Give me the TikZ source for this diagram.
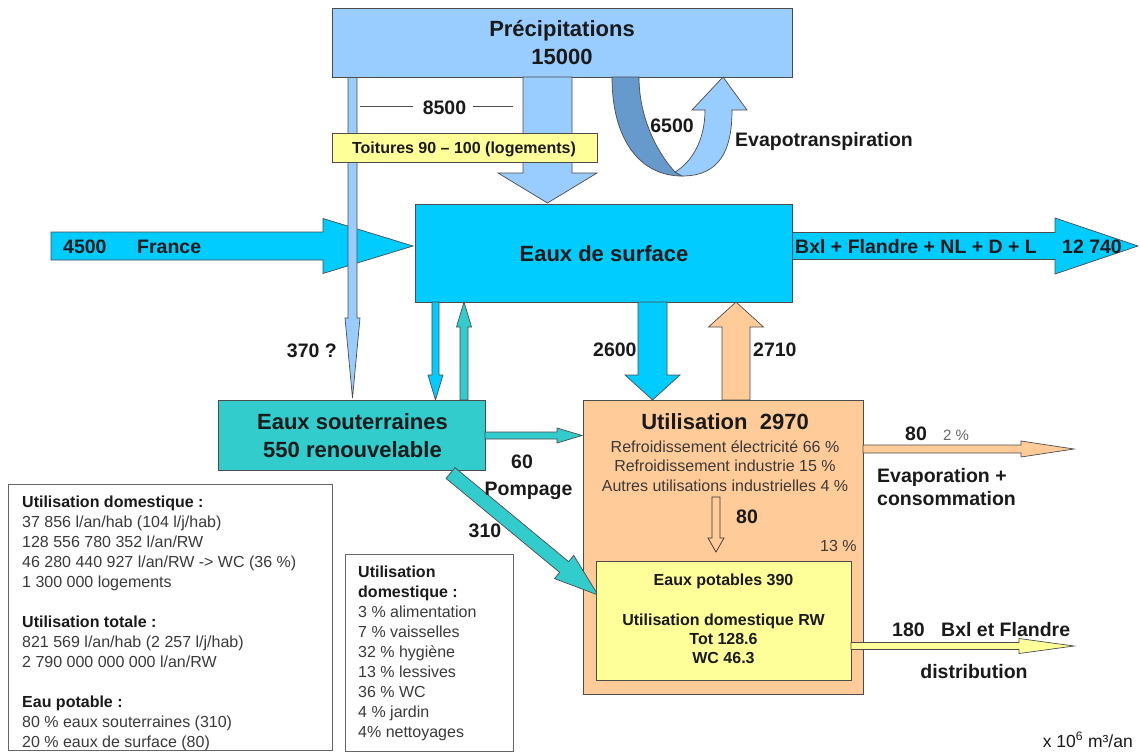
\documentclass[tikz,border=0pt]{standalone}
\usepackage{fontspec}
\setmainfont{Liberation Sans}
\definecolor{prec}{HTML}{99CCFF}
\definecolor{surf}{HTML}{00CCFF}
\definecolor{sout}{HTML}{33CCCC}
\definecolor{util}{HTML}{FFCC99}
\definecolor{pot}{HTML}{FFFF99}
\definecolor{evap}{HTML}{6699CC}
\definecolor{txtg}{HTML}{3A3A3A}
\definecolor{txtd}{HTML}{1A1A1A}
% vertical block arrow: style, x centre, y start, y head base, y tip, shaft half, head half
\newcommand\blkv[7]{\filldraw[#1] (#2-#6,#3) -- (#2-#6,#4) -- (#2-#7,#4) -- (#2,#5) -- (#2+#7,#4) -- (#2+#6,#4) -- (#2+#6,#3) -- cycle;}
% horizontal block arrow: style, y centre, x start, x head base, x tip, shaft half, head half
\newcommand\blkh[7]{\filldraw[#1] (#3,#2-#6) -- (#4,#2-#6) -- (#4,#2-#7) -- (#5,#2) -- (#4,#2+#7) -- (#4,#2+#6) -- (#3,#2+#6) -- cycle;}
\tikzset{
  outl/.style={draw=black!70, line width=0.7pt},
  big/.style={font=\bfseries\fontsize{22}{26}\selectfont, text=txtd, inner sep=0pt, anchor=base},
  lbl/.style={font=\bfseries\fontsize{19.5}{23}\selectfont, text=txtd, inner sep=0pt, anchor=base},
  lblw/.style={lbl, anchor=base west},
  mid/.style={font=\fontsize{16}{19}\selectfont, text=txtg, inner sep=0pt, anchor=base},
  midb/.style={font=\bfseries\fontsize{16}{19}\selectfont, text=txtd, inner sep=0pt, anchor=base},
  info/.style={font=\fontsize{16}{20}\selectfont, text=txtg, inner sep=0pt, anchor=base west},
  infobox/.style={draw=black!60, line width=0.8pt, fill=white},
}
\begin{document}
\begin{tikzpicture}[x=1pt,y=-1pt]
\useasboundingbox (0,0) rectangle (1140,753);
\fill[white] (0,0) rectangle (1140,753);

% France inflow and outflow
\blkh{outl, fill=surf}{246}{51}{323}{413}{14}{27.5}
\blkh{outl, fill=surf}{246}{792}{1055}{1138}{13.5}{28}
% Eaux de surface
\filldraw[outl, fill=surf] (415,204) rectangle (792,302);
% thin infiltration arrow
\blkv{outl, fill=prec}{352.5}{77}{318}{398}{4.5}{7.5}
% Precipitations
\filldraw[outl, fill=prec] (332,8) rectangle (792,77);
\blkv{outl, fill=prec}{547.5}{77}{173}{203}{24.5}{49.5}
% Toitures
\filldraw[outl, fill=pot] (332,133) rectangle (597,162);
% 8500 lines
\draw[black!70, line width=0.9pt] (360,106) -- (413,106);
\draw[black!70, line width=0.9pt] (473,106) -- (513,106);
% Evapotranspiration U arrow
\filldraw[outl, fill=evap] (612,77) .. controls (612,140) and (640,176) .. (682,176) -- (675,172) .. controls (655,150) and (639,115) .. (639,77) -- cycle;
\filldraw[outl, fill=prec] (682,176) .. controls (720,176) and (732,150) .. (732,110) -- (747,110) -- (723,77) -- (692,110) -- (705,110) .. controls (705,140) and (692,162) .. (675,172) -- cycle;
% surface <-> souterraines
\blkv{outl, fill=surf}{435.5}{302}{375}{400}{3.5}{7.5}
\blkv{outl, fill=sout}{464}{400}{327}{302}{4}{7.5}
% 2600 / 2710
\blkv{outl, fill=surf}{652.5}{302}{375}{400}{14.5}{27.5}
\blkv{outl, fill=util}{736}{400}{327}{302}{14}{27.5}
% Eaux souterraines
\filldraw[outl, fill=sout] (218,400) rectangle (485,470);
\blkh{outl, fill=sout}{435.5}{485}{557}{582}{3.5}{7.5}
% Utilisation
\filldraw[outl, fill=util] (583,400) rectangle (863,694);
% 310 diagonal arrow
\filldraw[outl, fill=sout] (455.0,467.6) -- (568.6,561.6) -- (573.7,555.4) -- (598,595) -- (554.5,578.6) -- (559.6,572.4) -- (446.0,478.4) -- cycle;
% Eaux potables
\filldraw[outl, fill=pot] (596,561) rectangle (851,680);
% hollow arrow 80
\blkv{draw=black!80, line width=0.7pt, fill=util}{716}{497}{538}{552}{4}{8}
% evaporation and distribution
\blkh{outl, fill=util}{449}{863}{1021}{1074}{4}{8}
\blkh{outl, fill=pot}{646}{851}{1019}{1074}{3.5}{7.5}

% info boxes
\filldraw[infobox] (8,484) rectangle (332,750);
\filldraw[infobox] (345,554) rectangle (513,751);
\foreach \yy/\tt in {507/{\bfseries\color{txtd}Utilisation domestique :},
  527/{37 856 l/an/hab (104 l/j/hab)},
  547/{128 556 780 352 l/an/RW},
  567/{46 280 440 927 l/an/RW -> WC (36 \%)},
  587/{1 300 000 logements},
  627/{\bfseries\color{txtd}Utilisation totale :},
  647/{821 569 l/an/hab (2 257 l/j/hab)},
  667/{2 790 000 000 000 l/an/RW},
  707/{\bfseries\color{txtd}Eau potable :},
  727/{80 \% eaux souterraines (310)},
  747/{20 \% eaux de surface (80)}}
  \node[info, name=ia\yy] at (22,\yy) {\tt};
\foreach \yy/\tt in {577/{\bfseries\color{txtd}Utilisation},
  597/{\bfseries\color{txtd}domestique :},
  617/{3 \% alimentation},
  637/{7 \% vaisselles},
  657/{32 \% hygiène},
  677/{13 \% lessives},
  697/{36 \% WC},
  717/{4 \% jardin},
  737/{4\% nettoyages}}
  \node[info, name=ib\yy] at (358,\yy) {\tt};

% texts
\node[big] (precA) at (562,36) {Précipitations};
\node[big] (precB) at (562,64) {15000};
\node[lbl] (n8500) at (444.5,114) {8500};
\node[midb] (toit) at (464,153) {Toitures 90 – 100 (logements)};
\node[lbl] (n6500) at (672,132) {6500};
\node[lblw] (evapT) at (735,146) {Evapotranspiration};
\node[lblw] (n4500) at (63,253) {4500};
\node[lblw] (fra) at (137,253) {France};
\node[big] (surfT) at (604,261) {Eaux de surface};
\node[lblw] (outT) at (795,253) {Bxl + Flandre + NL + D + L};
\node[lblw] (n12740) at (1062,253) {12 740};
\node[lbl, anchor=base east] (n370) at (337,357) {370 ?};
\node[lblw] (n2600) at (593,356) {2600};
\node[lblw] (n2710) at (753,356) {2710};
\node[big] (soutA) at (352.5,429) {Eaux souterraines};
\node[big] (soutB) at (352.5,457) {550 renouvelable};
\node[lbl] (n60) at (522,468) {60};
\node[lbl] (pomp) at (528.5,495) {Pompage};
\node[lbl] (n310) at (485,537) {310};
\node[big] (utilT) at (725,429) {Utilisation\ \ 2970};
\node[mid] (u1) at (725,452) {Refroidissement électricité 66 \%};
\node[mid] (u2) at (725,471) {Refroidissement industrie 15 \%};
\node[mid] (u3) at (725,491) {Autres utilisations industrielles 4 \%};
\node[lblw] (n80a) at (736,523) {80};
\node[mid, anchor=base west] (p13) at (820,551) {13 \%};
\node[lblw] (n80b) at (905,440) {80};
\node[mid, anchor=base west, font=\fontsize{15}{18}\selectfont, text=black!60] (p2) at (943,440) {2 \%};
\node[lblw] (evA) at (877,482) {Evaporation +};
\node[lblw] (evB) at (877,505) {consommation};
\node[midb] (potA) at (723.5,585) {Eaux potables 390};
\node[midb] (potB) at (723.5,625) {Utilisation domestique RW};
\node[midb] (potC) at (723.5,644) {Tot 128.6};
\node[midb] (potD) at (723.5,663) {WC 46.3};
\node[lblw] (n180) at (892,636) {180};
\node[lblw] (bxl) at (941,636) {Bxl et Flandre};
\node[lbl] (distr) at (974,678) {distribution};
\node[info, anchor=base east, font=\fontsize{17.5}{20}\selectfont, text=txtd] (unit) at (1133,747) {x 10\textsuperscript{6} m³/an};
\end{tikzpicture}
\end{document}
